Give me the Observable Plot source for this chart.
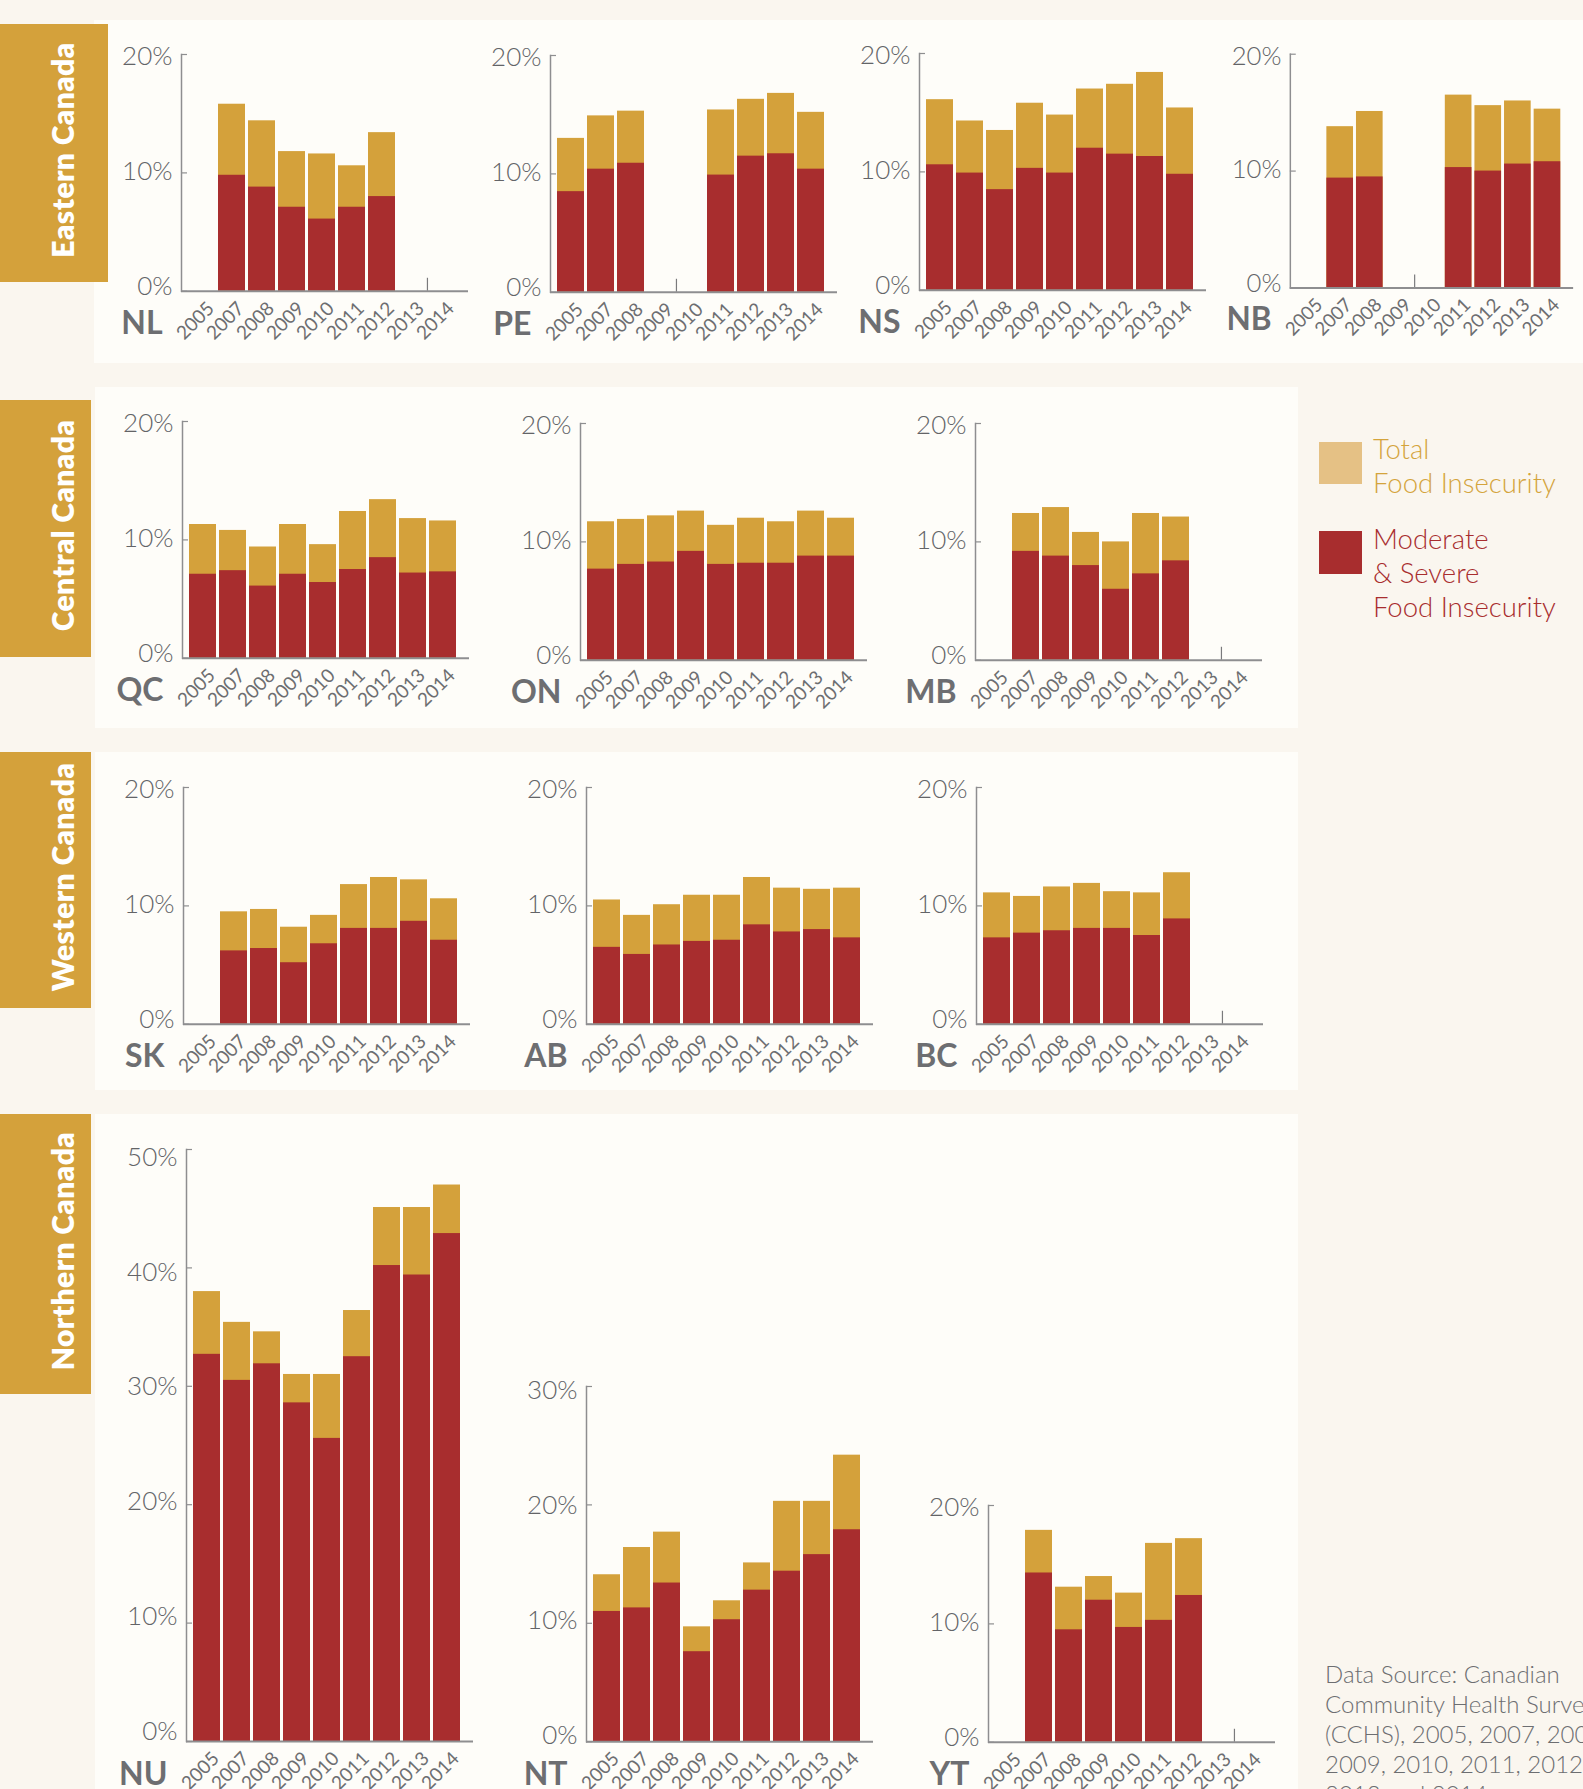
<!DOCTYPE html>
<html><head><meta charset="utf-8">
<script src="https://cdn.jsdelivr.net/npm/d3@7"></script>
<script src="https://cdn.jsdelivr.net/npm/@observablehq/plot@0.6"></script>
<style>
html,body{margin:0;padding:0;}
body{width:1583px;height:1789px;overflow:hidden;background:#faf6ef;position:relative;font-family:Lato,"Open Sans",sans-serif;}
#bg{position:absolute;left:0;top:0;}
.chart{position:absolute;}
.chart svg{overflow:visible;font-family:Lato,"Open Sans",sans-serif;}
</style></head><body>
<svg id="bg" width="1583" height="1789"></svg>
<div id="charts"></div>
<script>
// ---- data ----
const years = ["2005","2007","2008","2009","2010","2011","2012","2013","2014"];
const NL_total = [null,15.8,14.4,11.8,11.6,10.6,13.4,null,null];
const NL_mod   = [null, 9.8, 8.8, 7.1, 6.1, 7.1, 8.0,null,null];
const PE_total = [13.0,14.9,15.3,null,null,15.4,16.3,16.8,15.2];
const PE_mod   = [ 8.5,10.4,10.9,null,null, 9.9,11.5,11.7,10.4];
const NS_total = [16.1,14.3,13.5,15.8,14.8,17.0,17.4,18.4,15.4];
const NS_mod   = [10.6, 9.9, 8.5,10.3, 9.9,12.0,11.5,11.3, 9.8];
const NB_total = [null,13.8,15.1,null,null,16.5,15.6,16.0,15.3];
const NB_mod   = [null, 9.4, 9.5,null,null,10.3,10.0,10.6,10.8];
const QC_total = [11.3,10.8, 9.4,11.3, 9.6,12.4,13.4,11.8,11.6];
const QC_mod   = [ 7.1, 7.4, 6.1, 7.1, 6.4, 7.5, 8.5, 7.2, 7.3];
const ON_total = [11.7,11.9,12.2,12.6,11.4,12.0,11.7,12.6,12.0];
const ON_mod   = [ 7.7, 8.1, 8.3, 9.2, 8.1, 8.2, 8.2, 8.8, 8.8];
const MB_total = [null,12.4,12.9,10.8,10.0,12.4,12.1,null,null];
const MB_mod   = [null, 9.2, 8.8, 8.0, 6.0, 7.3, 8.4,null,null];
const SK_total = [null, 9.5, 9.7, 8.2, 9.2,11.8,12.4,12.2,10.6];
const SK_mod   = [null, 6.2, 6.4, 5.2, 6.8, 8.1, 8.1, 8.7, 7.1];
const AB_total = [10.5, 9.2,10.1,10.9,10.9,12.4,11.5,11.4,11.5];
const AB_mod   = [ 6.5, 5.9, 6.7, 7.0, 7.1, 8.4, 7.8, 8.0, 7.3];
const BC_total = [11.1,10.8,11.6,11.9,11.2,11.1,12.8,null,null];
const BC_mod   = [ 7.3, 7.7, 7.9, 8.1, 8.1, 7.5, 8.9,null,null];
const NU_total = [38.0,35.4,34.6,31.0,31.0,36.4,45.1,45.1,47.0];
const NU_mod   = [32.7,30.5,31.9,28.6,25.6,32.5,40.2,39.4,42.9];
const NT_total = [14.1,16.4,17.7, 9.7,11.9,15.1,20.3,20.3,24.2];
const NT_mod   = [11.0,11.3,13.4, 7.6,10.3,12.8,14.4,15.8,17.9];
const YT_total = [null,17.9,13.1,14.0,12.6,16.8,17.2,null,null];
const YT_mod   = [null,14.3, 9.5,12.0, 9.7,10.3,12.4,null,null];
// small tick after this year, between two missing years
const gapAfter = {NL:"2013", PE:"2009", NB:"2009", MB:"2013", BC:"2013", YT:"2013"};
const regions = ["Eastern Canada","Central Canada","Western Canada","Northern Canada"];
const legendTotal = ["Total","Food Insecurity"];
const legendMod = ["Moderate","& Severe","Food Insecurity"];
const sourceLines = ["Data Source: Canadian","Community Health Survey","(CCHS), 2005, 2007, 2008,","2009, 2010, 2011, 2012,","2013 and 2014"];

const series = {
  NL:[NL_total,NL_mod], PE:[PE_total,PE_mod], NS:[NS_total,NS_mod], NB:[NB_total,NB_mod],
  QC:[QC_total,QC_mod], ON:[ON_total,ON_mod], MB:[MB_total,MB_mod],
  SK:[SK_total,SK_mod], AB:[AB_total,AB_mod], BC:[BC_total,BC_mod],
  NU:[NU_total,NU_mod], NT:[NT_total,NT_mod], YT:[YT_total,YT_mod]
};

// ---- layout & style ----
const GOLD = "#d4a13b", RED = "#a82d2e", GREY = "#6d6e71", AXIS = "#8e8e90";
const PANEL = "#fefdf9", LABELBOX = "#d4a13b";
const PX10 = 118.4;
const layout = [
  {code:"NL", axisX:181, zeroY:291, ymax:20},
  {code:"PE", axisX:550, zeroY:292, ymax:20},
  {code:"NS", axisX:919, zeroY:290, ymax:20},
  {code:"NB", axisX:1291, zeroY:291, ymax:20},
  {code:"QC", axisX:182, zeroY:658, ymax:20},
  {code:"ON", axisX:580, zeroY:660, ymax:20},
  {code:"MB", axisX:975, zeroY:660, ymax:20},
  {code:"SK", axisX:183, zeroY:1024, ymax:20},
  {code:"AB", axisX:586, zeroY:1024, ymax:20},
  {code:"BC", axisX:976, zeroY:1024, ymax:20},
  {code:"NU", axisX:186, zeroY:1741, ymax:50},
  {code:"NT", axisX:586, zeroY:1741, ymax:30},
  {code:"YT", axisX:988, zeroY:1742, ymax:20}
];
const panels = [
  {x:94, y:20, w:1489, h:343},
  {x:95, y:387, w:1203, h:341},
  {x:95, y:752, w:1203, h:338},
  {x:95, y:1114, w:1203, h:700}
];
const boxes = [
  {x:0, y:24, w:108, h:258},
  {x:0, y:400, w:91, h:257},
  {x:0, y:752, w:91, h:256},
  {x:0, y:1114, w:91, h:280}
];

// ---- background decorations ----
const bg = d3.select("#bg");
panels.forEach(p => bg.append("rect").attr("x",p.x).attr("y",p.y).attr("width",p.w).attr("height",p.h).attr("fill",PANEL));
boxes.forEach((b,i) => {
  bg.append("rect").attr("x",b.x).attr("y",b.y).attr("width",b.w).attr("height",b.h).attr("fill",LABELBOX);
  const cy = b.y + b.h/2 - 3;
  bg.append("text").attr("transform",`translate(74,${cy}) rotate(-90)`)
    .attr("text-anchor","middle").attr("fill","#fff")
    .style("font-family","Lato, 'Open Sans', sans-serif").style("font-weight",800)
    .style("font-size","30px").style("letter-spacing","0.4px").text(regions[i]);
});
// legend
bg.append("rect").attr("x",1319).attr("y",442).attr("width",43).attr("height",42).attr("fill","#e5c185");
bg.append("rect").attr("x",1319).attr("y",531).attr("width",43).attr("height",43).attr("fill",RED);
legendTotal.forEach((t,i)=> bg.append("text").attr("x",1373).attr("y",459+i*34).attr("fill","#d4a43c")
  .style("font-family","Lato, sans-serif").style("font-weight",300).style("font-size","27.5px").text(t));
legendMod.forEach((t,i)=> bg.append("text").attr("x",1373).attr("y",549+i*34).attr("fill",RED)
  .style("font-family","Lato, sans-serif").style("font-weight",300).style("font-size","27.5px").text(t));
sourceLines.forEach((t,i)=> bg.append("text").attr("x",1325).attr("y",1683+i*30).attr("fill",GREY)
  .style("font-family","Lato, sans-serif").style("font-weight",300).style("font-size","24px").text(t));

// ---- charts ----
const ML = 90, MR = 10, MT = 22, MB_ = 70, XW = 287;
const container = document.getElementById("charts");
layout.forEach(L => {
  const [tot, mod] = series[L.code];
  const rows = years.map((y,i) => ({year:y, total:tot[i], mod:mod[i]}));
  const fh = L.ymax/10*PX10;
  const width = ML + XW + MR, height = MT + fh + MB_;
  const ticks = d3.range(0, L.ymax+1, 10);
  const mid = L.ymax/2;
  const step = 278/9;
  const gaps = gapAfter[L.code] ? [gapAfter[L.code]] : [];
  const chart = Plot.plot({
    width, height, marginLeft:ML, marginRight:MR, marginTop:MT, marginBottom:MB_,
    style:{background:"transparent", overflow:"visible"},
    x:{type:"band", domain:years, range:[ML+2, ML+280], paddingInner:0.09, paddingOuter:0.045, axis:null},
    y:{domain:[0,L.ymax], axis:null},
    marks:[
      Plot.barY(rows.filter(d=>d.total!=null), {x:"year", y:"total", fill:GOLD}),
      Plot.barY(rows.filter(d=>d.mod!=null), {x:"year", y:"mod", fill:RED}),
      Plot.frame({anchor:"left", stroke:AXIS, strokeWidth:1.5}),
      Plot.tickY(ticks, {y:d=>d, stroke:AXIS, strokeWidth:1.2, insetRight:XW-6}),
      Plot.ruleX(gaps, {x:d=>d, y1:0, y2:1.1, dx:step/2, stroke:"#7a7a7c", strokeWidth:1.2}),
      Plot.ruleY([0], {stroke:AXIS, strokeWidth:2}),
      ...ticks.map(t => Plot.text([t], {y:d=>d, frameAnchor:"left", textAnchor:"end", lineAnchor:"middle",
        text:d=>d+"%", dx:-9, dy:3.6*(t-mid)/10 - 1, fontSize:26, fontWeight:300, fill:"#636467"})),
      Plot.text(years, {x:d=>d, frameAnchor:"bottom", rotate:-45, textAnchor:"end", lineAnchor:"middle",
        dx:9, dy:14, fontSize:19, fontWeight:400, fill:GREY}),
      Plot.text([L.code], {frameAnchor:"bottom-left", textAnchor:"end", lineAnchor:"bottom",
        dx:-19, dy:43, fontSize:32, fontWeight:700, fill:GREY})
    ]
  });
  const div = document.createElement("div");
  div.className = "chart";
  div.style.left = (L.axisX - ML) + "px";
  div.style.top = (L.zeroY - fh - MT) + "px";
  div.appendChild(chart);
  container.appendChild(div);
});
</script>
</body></html>
